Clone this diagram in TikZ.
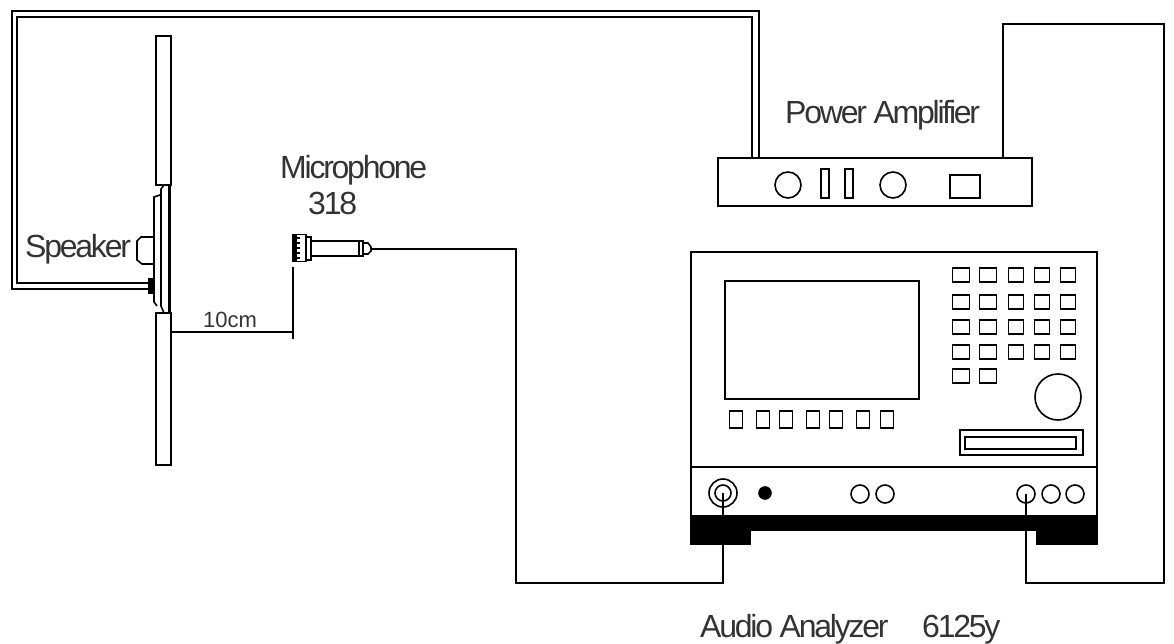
\documentclass[tikz,border=0pt]{standalone}
\usepackage{fontspec}
\setmainfont{Liberation Sans}
\newfontfamily\tightfont[LetterSpace=-7]{Liberation Sans}
\tikzset{
    part/.style={draw,rectangle,inner sep=0pt,line width=1.6pt},
    knob/.style={draw,circle,inner sep=0pt,line width=1.6pt},
    wire/.style={line width=1.6pt,line join=miter},
    caption/.style={anchor=base west,inner sep=0pt,text=black!80,font=\tightfont\fontsize{32}{36}\selectfont}
}
\begin{document}
\begin{tikzpicture}[x=1pt,y=-1pt]
        \useasboundingbox (0,0) rectangle (1174,644);

        % baffle and speaker
        \node[part, minimum width=15, minimum height=149] at (163.5,110.5) (baffle top) {};
        \node[part, minimum width=15, minimum height=152] at (163.5,389) (baffle bottom) {};
        \draw[wire] (168,185) -- (164,185) -- (161,189) -- (161,306) -- (164,313) -- (168,313);
        \draw[wire] (160,195) -- (154,197) -- (154,302) -- (157,306);
        \draw[line width=3pt] (169.5,185) -- (169.5,313);
        \draw[wire] (154,237) -- (141,237) -- (137,241) -- (137,260) -- (142,264) -- (154,264);
        \node[part, fill=black, minimum width=5, minimum height=15] at (151,286) (block) {};
        \coordinate (speaker outer) at (148,289);
        \coordinate (speaker inner) at (148,283);

        % microphone
        \node[part, minimum width=13, minimum height=27] at (299.5,248) (mic head) {};
        \node[part, fill=black, minimum width=3, minimum height=27] at (294.5,248) (mic edge) {};
        \foreach \y in {238,243,...,258}
            \draw[line width=1.2pt] (296,\y) -- (300,\y);
        \node[part, minimum width=5, minimum height=23] at (308.5,248.5) (mic neck) {};
        \node[part, minimum width=52, minimum height=15] at (337,248.5) (mic body) {};
        \node[part, minimum width=4, minimum height=15] at (361,248.5) (mic ring) {};
        \draw[wire] (363,243) -- (368,243) -- (371,247) -- (371,251) -- (368,254) -- (363,254);
        \coordinate (mic tip) at (371,249);

        % ten cm mark
        \coordinate (mic mark) at (293,332);
        \draw[wire] (293,267) -- (293,339);
        \draw[wire] (baffle bottom.east |- mic mark) -- (mic mark);

        % power amplifier
        \node[part, minimum width=314, minimum height=48] at (875,182) (amp) {};
        \node[knob, minimum size=26] at (788,185) (amp knob a) {};
        \node[knob, minimum size=26] at (893,185) (amp knob b) {};
        \node[part, minimum width=8, minimum height=29] at (825,183.5) (amp bar a) {};
        \node[part, minimum width=8, minimum height=29] at (849,183.5) (amp bar b) {};
        \node[part, minimum width=30, minimum height=23] at (965,186.5) (amp meter) {};
        \coordinate (amp outer) at (759,158);
        \coordinate (amp inner) at (752,158);
        \coordinate (amp return) at (1003,158);

        % audio analyzer
        \node[part, minimum width=406, minimum height=264] at (894,384) (analyzer) {};
        \draw[wire] (691,467) -- (1097,467);
        \node[part, fill=black, minimum width=406, minimum height=14] at (894,523) (base) {};
        \node[part, fill=black, minimum width=59, minimum height=28] at (720.5,530) (foot left) {};
        \node[part, fill=black, minimum width=61, minimum height=28] at (1067,530) (foot right) {};
        \node[part, minimum width=194, minimum height=118] at (822,340) (screen) {};
        \foreach \x in {736,763,786,813,836,863,887}
            \node[part, minimum width=13, minimum height=17] at (\x,419.5) (soft \x) {};
        \foreach \x/\w in {961/17,988/17,1016/15,1042/15,1068/15} {
            \foreach \y in {275,302,327,352}
                \node[part, minimum width=\w, minimum height=14] at (\x,\y) (key \x \y) {};
        }
        \node[part, minimum width=17, minimum height=14] at (961,376) (key a) {};
        \node[part, minimum width=17, minimum height=14] at (988,376) (key b) {};
        \node[knob, minimum size=46] at (1058,397) (dial) {};
        \node[part, minimum width=123, minimum height=25] at (1021.5,442.5) (slot outer) {};
        \node[part, minimum width=111, minimum height=12] at (1020.5,443) (slot inner) {};
        \node[knob, minimum size=28] at (723,493) (jack outer) {};
        \node[knob, minimum size=16] at (723,493) (jack inner) {};
        \node[knob, fill=black, minimum size=12] at (765,493) (dot) {};
        \node[knob, minimum size=18] at (860,494) (port a) {};
        \node[knob, minimum size=18] at (885,494) (port b) {};
        \node[knob, minimum size=18] at (1026,494) (port c) {};
        \node[knob, minimum size=18] at (1051,494) (port d) {};
        \node[knob, minimum size=18] at (1075,494) (port e) {};

        % cables
        \draw[wire] (speaker outer) -| (12,11) -| (amp outer);
        \draw[wire] (speaker inner) -| (17,17) -| (amp inner);
        \draw[wire] (mic tip) -| (516,583) -| (jack inner.center);
        \draw[wire] (port c.center) |- (1164,583) -- (1164,24) -| (amp return);

        % labels
        \node[caption] at (785,124) (amp label) {Power Amplifier};
        \node[caption] at (280,179) (mic label) {Microphone};
        \node[caption] at (308,215) (mic number) {318};
        \node[caption] at (25,258) (speaker label) {Speaker};
        \node[caption, font=\rmfamily\fontsize{22}{24}\selectfont] at (203,327) (distance) {10cm};
        \node[caption] at (700,637) (analyzer label) {Audio Analyzer};
        \node[caption] at (922,637) (analyzer number) {6125y};
\end{tikzpicture}
\end{document}
